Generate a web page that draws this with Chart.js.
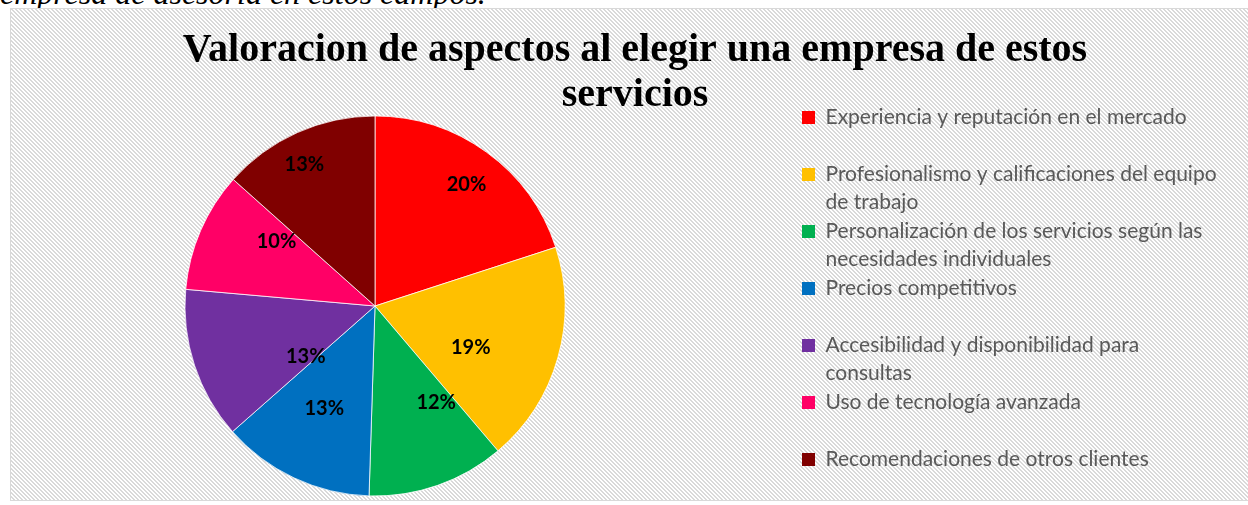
<!DOCTYPE html>
<html lang="es">
<head>
<meta charset="utf-8">
<title>Valoracion de aspectos</title>
<script src="https://cdn.jsdelivr.net/npm/chart.js@4.4.1/dist/chart.umd.min.js"></script>
<style>
  html, body { margin: 0; padding: 0; background: #fff; overflow: hidden; width: 1248px; height: 505px; }
  .intro { position: absolute; left: 0; top: -23px; font: italic 32px 'Liberation Serif', serif; line-height: 32px; white-space: nowrap; color: #000; }
  .frame { position: absolute; left: 10px; top: 8px; width: 1300px; height: 491px; border: 1px solid #d9d9d9; overflow: hidden; background: #ececec; }
  .frame canvas { position: absolute; left: -62px; top: 0; }
</style>
</head>
<body>
<div class="intro">empresa de asesoría en estos campos.</div>
<div class="frame" id="frame">
  <canvas id="chart" width="1372" height="498"></canvas>
</div>
<script>
const chartTitle = ['Valoracion de aspectos al elegir una empresa de estos', 'servicios'];
const categories = [
    'Experiencia y reputación en el mercado',
    'Profesionalismo y calificaciones del equipo de trabajo',
    'Personalización de los servicios según las necesidades individuales',
    'Precios competitivos',
    'Accesibilidad y disponibilidad para consultas',
    'Uso de tecnología avanzada',
    'Recomendaciones de otros clientes'
];
const values = [20.0, 18.8, 11.7, 13.0, 12.9, 10.2, 13.4];
const colors = ['#FF0000', '#FFC000', '#00B050', '#0070C0', '#7030A0', '#FF0066', '#800000'];

// diagonal hatch like the excel chart area
const tile = document.createElement('canvas');
tile.width = 4; tile.height = 4;
const tctx = tile.getContext('2d');
tctx.fillStyle = '#ffffff';
tctx.fillRect(0, 0, 4, 4);
tctx.fillStyle = '#d9d9d9';
for (let y = 0; y < 4; y++) {
    tctx.fillRect(y % 4, y, 1, 1);
    tctx.fillRect((y + 1) % 4, y, 1, 1);
}
document.getElementById('frame').style.backgroundImage = 'url(' + tile.toDataURL() + ')';

const legendFont = { family: 'Lato', size: 21, lineHeight: '28px' };

// splits a legend label in two lines (excel wraps long ones)
function wrapLabel(ctx, text, maxWidth) {
    const words = text.split(' ');
    const lines = [];
    let line = '';
    words.forEach(w => {
        const test = line ? line + ' ' + w : w;
        if (line && ctx.measureText(test).width > maxWidth) {
            lines.push(line);
            line = w;
        } else {
            line = test;
        }
    });
    lines.push(line);
    while (lines.length < 2) lines.push('');
    return lines;
}

// percentage labels inside the slices
const sliceLabels = {
    id: 'sliceLabels',
    afterDatasetsDraw(chart, args, opts) {
        const meta = chart.getDatasetMeta(0);
        const data = chart.data.datasets[0].data;
        const total = data.reduce((a, b) => a + b, 0);
        const ctx = chart.ctx;
        ctx.save();
        ctx.font = opts.font;
        ctx.fillStyle = opts.color;
        ctx.textAlign = 'center';
        ctx.textBaseline = 'middle';
        meta.data.forEach((arc, i) => {
            const p = arc.getProps(['x', 'y', 'startAngle', 'endAngle', 'outerRadius'], true);
            const place = opts.placement[i];
            const a = (p.startAngle + p.endAngle) / 2 + place.shift * Math.PI / 180;
            const r = p.outerRadius * place.dist;
            ctx.fillText(Math.round(data[i] / total * 100) + '%', p.x + Math.cos(a) * r, p.y + Math.sin(a) * r);
        });
        ctx.restore();
    }
};

const chart = new Chart(document.getElementById('chart'), {
    type: 'pie',
    data: {
        labels: categories,
        datasets: [{
            data: values,
            backgroundColor: colors,
            borderColor: '#ffffff',
            borderWidth: 0.75,
            radius: 190
        }]
    },
    options: {
        responsive: false,
        animation: false,
        devicePixelRatio: 1,
        layout: { padding: 0 },
        plugins: {
            title: {
                display: true,
                text: chartTitle,
                color: '#000000',
                font: { family: "'Liberation Serif', serif", size: 40, weight: 'bold', lineHeight: '45px' },
                padding: { top: 19, bottom: -13 }
            },
            // empty spacer on the right so the title centres over the whole chart box
            subtitle: {
                display: true,
                position: 'right',
                text: '',
                font: { size: 1, lineHeight: 1 },
                padding: { top: 60, bottom: 0 }
            },
            legend: {
                position: 'right',
                fullSize: false,
                maxWidth: 560,
                labels: {
                    font: legendFont,
                    color: '#595959',
                    boxWidth: 13,
                    boxHeight: 13,
                    padding: 1,
                    generateLabels(chart) {
                        const items = Chart.overrides.pie.plugins.legend.labels.generateLabels(chart);
                        const ctx = chart.ctx;
                        ctx.save();
                        ctx.font = legendFont.size + 'px ' + legendFont.family;
                        items.forEach(it => {
                            it.text = wrapLabel(ctx, it.text, 399);
                            it.lineWidth = 0;
                            it.strokeStyle = 'rgba(0,0,0,0)';
                        });
                        ctx.restore();
                        return items;
                    }
                }
            },
            tooltip: { enabled: false },
            sliceLabels: {
                font: 'bold 20px Lato',
                color: '#000000',
                placement: [
                    { dist: 0.80, shift: 1 },
                    { dist: 0.55, shift: 7.7 },
                    { dist: 0.60, shift: -13.2 },
                    { dist: 0.60, shift: 1.2 },
                    { dist: 0.45, shift: -17.8 },
                    { dist: 0.62, shift: 9.9 },
                    { dist: 0.83, shift: -2.5 }
                ]
            }
        }
    },
    plugins: [sliceLabels]
});

// size the spacer so the legend starts right where excel puts it
const legendLeft = 852;
chart.options.plugins.subtitle.padding.top = chart.width - legendLeft - chart.legend.width - 1;
chart.update();
</script>
</body>
</html>
